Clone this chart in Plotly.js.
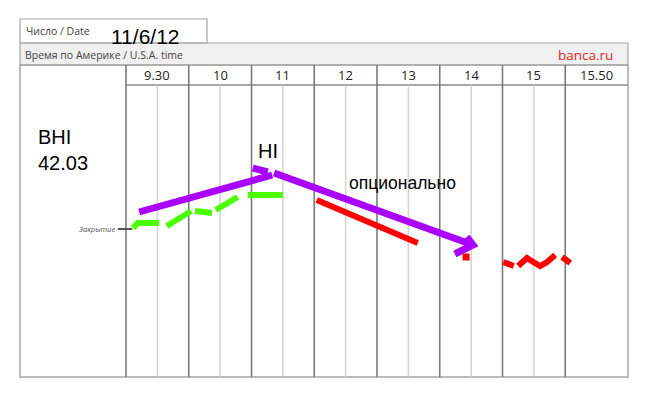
<!DOCTYPE html>
<html>
<head>
<meta charset="utf-8">
<script src="https://cdn.plot.ly/plotly-3.0.1.min.js"></script>
<style>html,body{margin:0;padding:0;background:#fff;}#chart{width:648px;height:397px;}</style>
</head>
<body>
<div id="chart"></div>
<script>
// x: column units (0 = start of 9.30 column), y: price level (close = 42.03)
const columnLabels = ["9.30", "10", "11", "12", "13", "14", "15", "15.50"];
const closePrice = 42.03;
const closeTickX = [-0.13, 0.10];
const closeTickY = [42.03, 42.03];

const greenX = [0.11, 0.19, 0.53, null, 0.65, 1.04, null, 1.10, 1.37, null, 1.43, 1.78, null, 1.94, 2.50];
const greenY = [42.04, 42.09, 42.09, null, 42.06, 42.21, null, 42.21, 42.19, null, 42.22, 42.35, null, 42.37, 42.37];

const purpleUpX = [0.21, 2.33];
const purpleUpY = [42.20, 42.57];
const purpleNubX = [2.02, 2.26];
const purpleNubY = [42.64, 42.60];
const purpleDownX = [2.36, 5.53];
const purpleDownY = [42.59, 41.87];
const arrowHeadX = [5.43, 5.53, 5.24];
const arrowHeadY = [41.95, 41.87, 41.78];

const redLineX = [3.04, 4.65];
const redLineY = [42.32, 41.89];
const redDotX = [5.42];
const redDotY = [41.75];
const redWaveX = [6.01, 6.18, null, 6.25, 6.39, 6.49, 6.60, 6.71, 6.84, null, 6.95, 7.08];
const redWaveY = [41.70, 41.66, null, 41.66, 41.74, 41.70, 41.66, 41.70, 41.77, null, 41.75, 41.69];

// layout helpers (pixel -> axis units) for the table frame
const X = px => (px - 126) / 62.75;
const Y = py => closePrice + (229 - py) * 0.01;

const traces = [
  {x: closeTickX, y: closeTickY, mode: 'lines', line: {color: '#555', width: 2}},
  {x: greenX, y: greenY, mode: 'lines', line: {color: '#4cff00', width: 6}},
  {x: purpleUpX, y: purpleUpY, mode: 'lines', line: {color: '#aa00ff', width: 7}},
  {x: purpleNubX, y: purpleNubY, mode: 'lines', line: {color: '#aa00ff', width: 7}},
  {x: purpleDownX, y: purpleDownY, mode: 'lines', line: {color: '#aa00ff', width: 7}},
  {x: arrowHeadX, y: arrowHeadY, mode: 'lines', line: {color: '#aa00ff', width: 7}},
  {x: redLineX, y: redLineY, mode: 'lines', line: {color: '#ff0000', width: 6}},
  {x: redDotX, y: redDotY, mode: 'markers', marker: {color: '#ff0000', size: 7, symbol: 'square'}},
  {x: redWaveX, y: redWaveY, mode: 'lines', line: {color: '#ff0000', width: 6}}
];
traces.forEach(t => { t.hoverinfo = 'skip'; t.showlegend = false; });

const shapes = [];
const gray = '#8a8a8a';
// date box
shapes.push({type: 'rect', x0: X(20), x1: X(207), y0: Y(43), y1: Y(19), line: {color: '#a6a6a6', width: 1.2}});
// gray band
shapes.push({type: 'rect', x0: X(20), x1: X(628), y0: Y(65), y1: Y(43), fillcolor: '#f0f0f0', line: {color: '#a6a6a6', width: 1.2}, layer: 'below'});
// outer frame of main table
shapes.push({type: 'rect', x0: X(20), x1: X(628), y0: Y(377), y1: Y(65), line: {color: '#a6a6a6', width: 1.5}, layer: 'below'});
// header row bottom line
shapes.push({type: 'line', x0: 0, x1: 8, y0: Y(85), y1: Y(85), line: {color: gray, width: 1.5}, layer: 'below'});
// major column lines
for (let i = 0; i <= 7; i++) {
  shapes.push({type: 'line', x0: i, x1: i, y0: Y(377), y1: Y(65), line: {color: '#7a7a7a', width: 1.6}, layer: 'below'});
}
// minor half lines
for (let i = 0; i < 7; i++) {
  shapes.push({type: 'line', x0: i + 0.5, x1: i + 0.5, y0: Y(377), y1: Y(85), line: {color: '#d2d2d2', width: 1.5}, layer: 'below'});
}

const annotations = [];
const txt = (text, x, y, size, opts) => Object.assign({
  text: text, x: x, y: y, xref: 'x', yref: 'y', showarrow: false,
  font: {family: 'Liberation Sans, Arial', size: size, color: '#000'}
}, opts || {});

columnLabels.forEach((lab, i) => {
  annotations.push(txt(lab, i + 0.5, Y(75), 13.5, {font: {family: 'Open Sans, Noto Sans', size: 13, color: '#222'}}));
});
annotations.push(txt('Число / Date', X(24), Y(31), 11, {xanchor: 'left', font: {family: 'Open Sans, Noto Sans', size: 10.5, color: '#444'}}));
annotations.push(txt('Время по Америке / U.S.A. time', X(23), Y(55), 11, {xanchor: 'left', font: {family: 'Open Sans, Noto Sans', size: 10.5, color: '#444'}}));
annotations.push(txt('banca.ru', X(615), Y(55), 14, {xanchor: 'right', font: {family: 'Open Sans, Noto Sans', size: 13.5, color: '#e0261c'}}));
annotations.push(txt('11/6/12', X(109), Y(36), 21, {xanchor: 'left'}));
annotations.push(txt('BHI<br>42.03', X(36), Y(150), 20, {xanchor: 'left', align: 'left'}));
annotations.push(txt('HI', X(256), Y(151), 20, {xanchor: 'left'}));
annotations.push(txt('опционально', X(347), Y(183), 17.5, {xanchor: 'left'}));
annotations.push(txt('<i>Закрытие</i>', X(117), Y(229), 8, {xanchor: 'right', font: {family: 'Open Sans, Noto Sans', size: 7.5, color: '#555'}}));

const layout = {
  width: 648, height: 397,
  margin: {l: 0, r: 0, t: 0, b: 0, pad: 0},
  paper_bgcolor: '#fff', plot_bgcolor: '#fff',
  xaxis: {range: [X(0), X(648)], visible: false, fixedrange: true},
  yaxis: {range: [Y(397), Y(0)], visible: false, fixedrange: true},
  shapes: shapes,
  annotations: annotations,
  showlegend: false
};

Plotly.newPlot('chart', traces, layout, {staticPlot: true, displayModeBar: false});
</script>
</body>
</html>
